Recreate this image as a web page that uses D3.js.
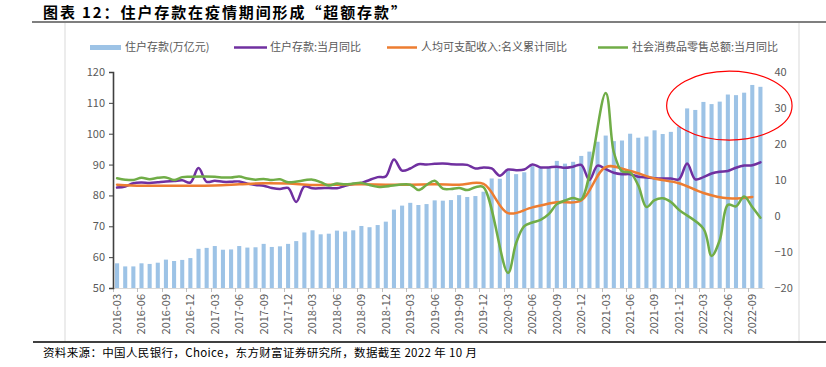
<!DOCTYPE html>
<html><head><meta charset="utf-8">
<script src="https://cdn.jsdelivr.net/npm/d3@7"></script>
<style>
body{margin:0;background:#fff;}
svg{display:block;font-family:"Noto Sans CJK SC","Noto Sans",sans-serif;}
</style></head><body>
<svg id="chart" width="826" height="367"></svg>
<script>
const months = ["2016-03","2016-04","2016-05","2016-06","2016-07","2016-08","2016-09","2016-10","2016-11","2016-12",
"2017-01","2017-02","2017-03","2017-04","2017-05","2017-06","2017-07","2017-08","2017-09","2017-10","2017-11","2017-12",
"2018-01","2018-02","2018-03","2018-04","2018-05","2018-06","2018-07","2018-08","2018-09","2018-10","2018-11","2018-12",
"2019-01","2019-02","2019-03","2019-04","2019-05","2019-06","2019-07","2019-08","2019-09","2019-10","2019-11","2019-12",
"2020-01","2020-02","2020-03","2020-04","2020-05","2020-06","2020-07","2020-08","2020-09","2020-10","2020-11","2020-12",
"2021-01","2021-02","2021-03","2021-04","2021-05","2021-06","2021-07","2021-08","2021-09","2021-10","2021-11","2021-12",
"2022-01","2022-02","2022-03","2022-04","2022-05","2022-06","2022-07","2022-08","2022-09","2022-10"];

// 住户存款(万亿元)
const deposits = [58.0,57.0,57.0,58.0,57.8,58.2,59.2,58.75,59.1,59.7,
62.7,63.0,63.6,62.4,62.5,63.6,63.1,63.2,64.3,63.3,63.5,64.3,
65.2,68.0,68.7,67.4,67.6,68.6,68.3,68.7,70.1,69.7,70.4,71.5,
75.4,76.7,77.6,76.9,77.2,78.4,78.3,78.5,80.1,79.5,79.8,81.2,
85.5,85.4,88.0,86.9,87.5,89.5,89.2,89.3,91.2,90.3,90.9,92.8,
94.2,97.4,99.4,97.6,97.8,100.0,98.7,99.1,101.1,99.9,100.6,102.3,
108.2,107.7,110.3,109.6,110.4,112.7,112.5,113.3,115.8,115.2];

// 住户存款:当月同比 (%)
const depositYoY = [7.9,8.2,9.1,9.3,9.2,9.4,9.6,9.7,9.9,9.3,
13.3,9.5,9.8,9.5,9.5,9.6,9.0,8.6,8.4,7.8,7.5,7.8,
3.9,8.2,7.7,7.7,7.8,7.7,8.4,8.9,9.2,10.0,10.8,11.0,
15.7,12.6,13.2,14.4,14.3,14.5,14.6,14.4,14.3,14.2,13.2,13.5,
13.2,11.2,12.9,12.7,12.9,14.3,13.5,13.5,13.7,13.4,13.7,14.2,
10.0,14.0,13.0,12.0,11.6,11.6,10.9,10.7,10.5,10.4,10.4,10.2,
14.6,10.2,10.8,11.8,12.3,12.5,13.4,14.0,14.1,14.9];

// 人均可支配收入:名义累计同比 (%), quarterly
const incomeYoY = [8.7,null,null,8.4,null,null,8.4,null,null,8.4,
null,null,8.5,null,null,8.8,null,null,9.1,null,null,9.0,
null,null,8.6,null,null,8.7,null,null,8.8,null,null,8.7,
null,null,8.7,null,null,8.8,null,null,8.7,null,null,8.9,
null,null,0.8,null,null,2.4,null,null,3.8,null,null,4.3,
null,null,13.6,null,null,12.5,null,null,10.4,null,null,9.1,
null,null,6.4,null,null,4.9,null,null,5.3,null];

// 社会消费品零售总额:当月同比 (%)
const retailYoY = [10.5,10.1,10.0,10.6,10.2,10.6,10.7,10.0,10.8,10.9,
null,null,10.9,10.7,10.7,11.0,10.4,10.1,10.3,10.0,10.2,9.4,
null,null,10.1,9.4,8.5,9.0,8.8,9.0,9.2,8.6,8.1,8.2,
null,null,8.7,7.2,8.6,9.8,7.6,7.5,7.8,7.2,8.0,8.0,
null,null,-15.8,-7.5,-2.8,-1.8,-1.1,0.5,3.3,4.3,5.0,4.6,
null,null,34.2,17.7,12.4,12.1,8.5,2.5,4.4,4.9,3.9,1.7,
null,null,-3.5,-11.1,-6.7,3.1,2.7,5.4,2.5,-0.5];

const leftTicks = [50,60,70,80,90,100,110,120];
const rightTicks = [-20,-10,0,10,20,30,40];
const xTickLabels = months.filter((d,i)=>i%3===0);
const seriesNames = ["住户存款(万亿元)","住户存款:当月同比","人均可支配收入:名义累计同比","社会消费品零售总额:当月同比"];
const colors = ["#9DC3E6","#7030A0","#ED7D31","#70AD47"];
const titleText = "图表 12：住户存款在疫情期间形成“超额存款”";
const sourceText = "资料来源：中国人民银行，Choice，东方财富证券研究所，数据截至 2022 年 10 月";

const svg = d3.select("#chart");
const L = 113, R = 764.5, T = 72, B = 288;

// frame
svg.append("line").attr("x1",32).attr("x2",826).attr("y1",22).attr("y2",22).attr("stroke","#7f7f7f").attr("stroke-width",2);
svg.append("line").attr("x1",65).attr("x2",65).attr("y1",23).attr("y2",341).attr("stroke","#d9d9d9").attr("stroke-width",1);
svg.append("line").attr("x1",799).attr("x2",799).attr("y1",23).attr("y2",341).attr("stroke","#d9d9d9").attr("stroke-width",1);
svg.append("line").attr("x1",33).attr("x2",826).attr("y1",342).attr("y2",342).attr("stroke","#000").attr("stroke-width",1.5);

svg.append("text").attr("x",43).attr("y",18).attr("font-size",15).attr("font-weight","bold")
  .attr("letter-spacing","1.9px").attr("fill","#000").text(titleText);
svg.append("text").attr("x",43).attr("y",357).attr("font-size",11.5).attr("letter-spacing","0.35px").attr("fill","#000").text(sourceText);

const x = d3.scaleBand().domain(months).range([L,R]).paddingInner(0.5).paddingOuter(0.25);
const xc = d => x(d) + x.bandwidth()/2;
const step = x.step();
const yL = d3.scaleLinear().domain([50,120]).range([B,T]);
const yR = d3.scaleLinear().domain([-20,40]).range([B,T]);

// bars
svg.append("g").selectAll("rect").data(months).join("rect")
  .attr("x",(d)=>x(d)).attr("width",x.bandwidth())
  .attr("y",(d,i)=>yL(deposits[i])).attr("height",(d,i)=>B-yL(deposits[i]))
  .attr("fill",colors[0]);

// x axis
svg.append("line").attr("x1",L).attr("x2",R).attr("y1",B+0.5).attr("y2",B+0.5).attr("stroke","#d9d9d9");
const xt = svg.append("g");
months.forEach((m,i)=>{
  if(i%3===0){
    const bx = Math.round(xc(m) - step/2) + 0.5;
    xt.append("line").attr("x1",bx).attr("x2",bx).attr("y1",B).attr("y2",B+4).attr("stroke","#bfbfbf");
  }
});
xt.selectAll("text").data(xTickLabels).join("text")
  .attr("transform",d=>`translate(${xc(d)},${B+6}) rotate(-90)`)
  .attr("text-anchor","end").attr("dy","0.35em").attr("font-size",11).attr("fill","#595959").text(d=>d);

// left axis
const la = svg.append("g").attr("transform",`translate(${L},0)`)
  .call(d3.axisLeft(yL).tickValues(leftTicks).tickSize(4).tickPadding(4));
la.select(".domain").attr("stroke","#404040").attr("stroke-width",1.6);
la.selectAll(".tick line").attr("stroke","#404040");
la.selectAll("text").attr("font-size",11).attr("fill","#595959").attr("font-family","Noto Sans CJK SC");

// right axis
const ra = svg.append("g").attr("transform",`translate(${R},0)`)
  .call(d3.axisRight(yR).tickValues(rightTicks).tickSize(0).tickPadding(10));
ra.select(".domain").remove();
ra.selectAll("text").attr("font-size",11).attr("fill","#595959").attr("font-family","Noto Sans CJK SC");

// lines
function drawLine(vals, color, w){
  const pts = months.map((m,i)=>[xc(m), vals[i]]).filter(p=>p[1]!==null);
  const gen = d3.line().x(p=>p[0]).y(p=>yR(p[1])).curve(d3.curveCatmullRom.alpha(0.5));
  svg.append("path").attr("d",gen(pts)).attr("fill","none").attr("stroke",color)
    .attr("stroke-width",w).attr("stroke-linejoin","round").attr("stroke-linecap","round");
}
drawLine(depositYoY, colors[1], 2.5);
drawLine(incomeYoY, colors[2], 2.5);
drawLine(retailYoY, colors[3], 2.5);

// annotation ellipse
svg.append("ellipse").attr("cx",xc("2022-06")+1.5).attr("cy",yL(109.1))
  .attr("rx",step*7.7).attr("ry",34.5).attr("fill","none").attr("stroke","#ff0000").attr("stroke-width",1.2);

// legend
const lg = svg.append("g").attr("font-size",11).attr("fill","#595959");
const legendX = [[90,121,125],[234,267,270],[387,417,421],[598,628,632]];
seriesNames.forEach((n,i)=>{
  const [a,b,t] = legendX[i];
  if(i===0){
    lg.append("rect").attr("x",a).attr("y",45).attr("width",b-a).attr("height",5).attr("fill",colors[0]);
  } else {
    lg.append("line").attr("x1",a).attr("x2",b).attr("y1",47.5).attr("y2",47.5).attr("stroke",colors[i]).attr("stroke-width",2.5);
  }
  lg.append("text").attr("x",t).attr("y",47.5).attr("dy","0.35em").attr("fill","#595959").text(n);
});
</script>
</body></html>
